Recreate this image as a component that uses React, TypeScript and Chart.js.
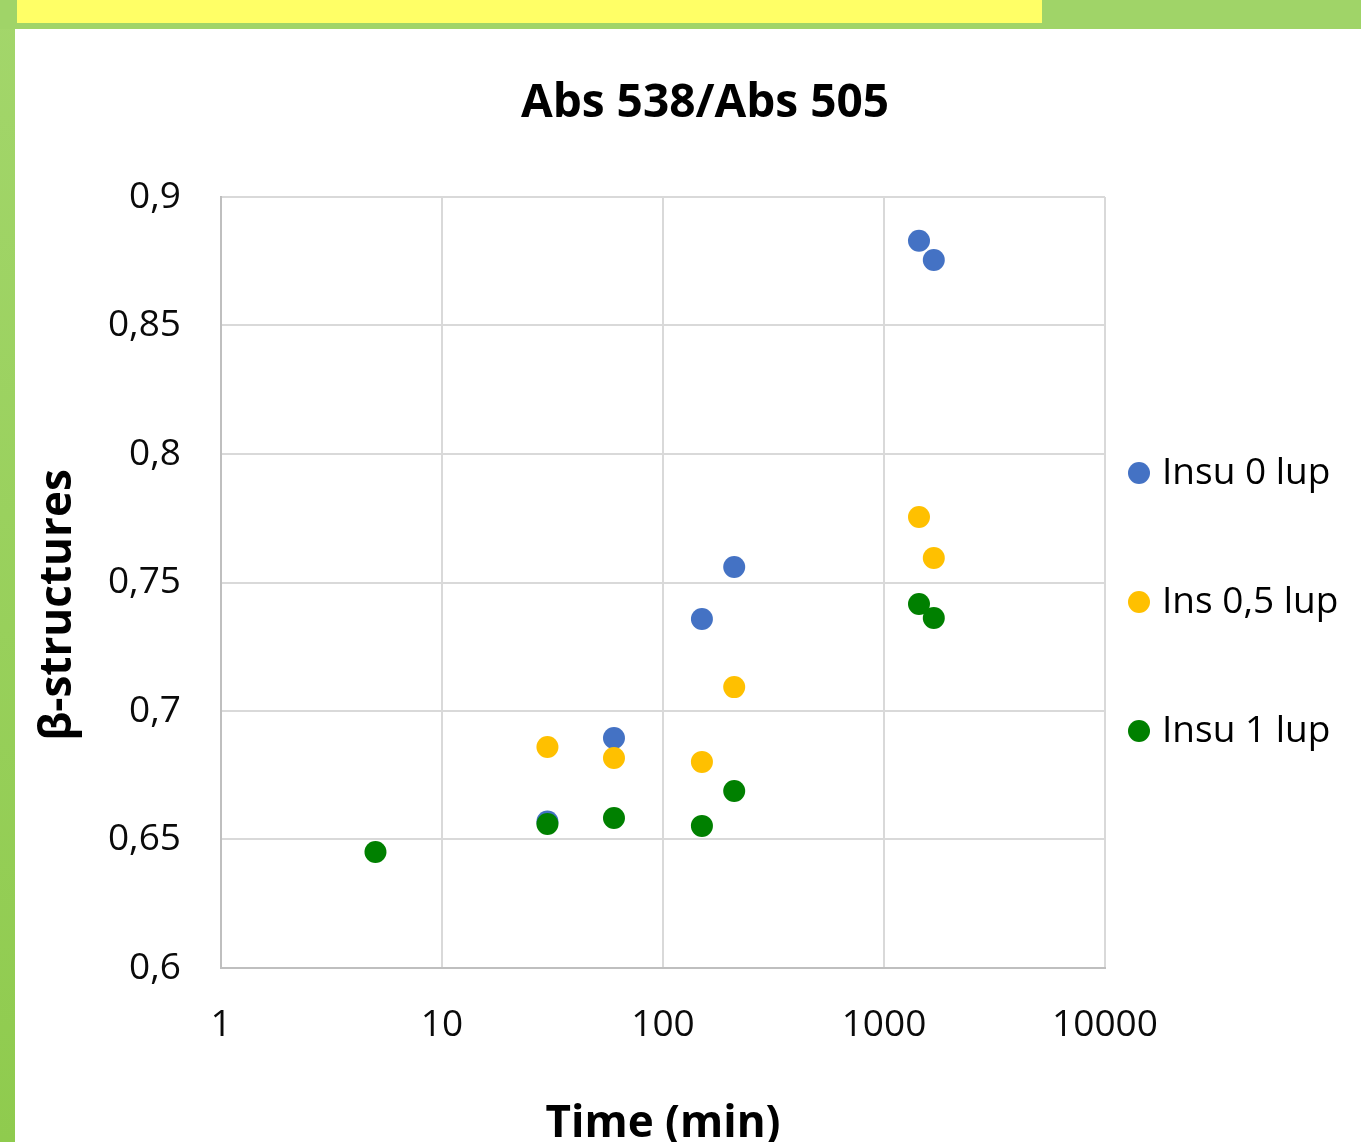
import React, { useEffect, useRef } from "react";
import { Chart, registerables } from "chart.js";

Chart.register(...registerables);

const chartTitle = "Abs 538/Abs 505";
const xAxisTitle = "Time (min)";
const yAxisTitle = "β-structures";

const xTickValues = [1, 10, 100, 1000, 10000];
const yMin = 0.6;
const yMax = 0.9;
const yStep = 0.05;

const seriesNames = ["Insu 0 lup", "Ins 0,5 lup", "Insu 1 lup"];
const seriesColors = ["#4472C4", "#FFC000", "#008000"];

const insu0Time = [30, 60, 150, 210, 1440, 1680];
const insu0Values = [0.657, 0.6895, 0.7358, 0.756, 0.883, 0.8755];

const ins05Time = [30, 60, 150, 210, 1440, 1680];
const ins05Values = [0.686, 0.6817, 0.6802, 0.7093, 0.7755, 0.7595];

const insu1Time = [5, 30, 60, 150, 210, 1440, 1680];
const insu1Values = [0.6451, 0.656, 0.6584, 0.6553, 0.6689, 0.7416, 0.7362];

const FONT = "'Open Sans', 'Noto Sans', sans-serif";

const W = 1361;
const H = 1142;

function toPoints(xs: number[], ys: number[]) {
  return xs.map((x, i) => ({ x, y: ys[i] }));
}

const framePlugin = {
  id: "frame",
  beforeDraw(chart: any) {
    const ctx = chart.ctx;
    ctx.save();
    ctx.fillStyle = "#ffffff";
    ctx.fillRect(0, 0, W, H);
    const grad = ctx.createLinearGradient(0, 0, 0, H);
    grad.addColorStop(0, "#A3D66B");
    grad.addColorStop(1, "#8FCB4E");
    ctx.fillStyle = grad;
    ctx.fillRect(0, 0, 15, H);
    ctx.fillStyle = "#A0D468";
    ctx.fillRect(0, 0, W, 29);
    ctx.fillStyle = "#FFFF66";
    ctx.fillRect(17, 0, 1025, 23);
    ctx.restore();
  },
};

const textPlugin = {
  id: "texts",
  afterDraw(chart: any) {
    const ctx = chart.ctx;
    ctx.save();
    ctx.fillStyle = "#000000";
    ctx.textAlign = "center";
    ctx.textBaseline = "middle";
    ctx.font = `bold 46px ${FONT}`;
    ctx.fillText(chartTitle, 705, 104);
    ctx.font = `bold 44px ${FONT}`;
    ctx.fillText(xAxisTitle, 663, 1124);
    ctx.save();
    ctx.translate(58, 605);
    ctx.rotate(-Math.PI / 2);
    ctx.fillText(yAxisTitle, 0, 0);
    ctx.restore();

    ctx.font = `37px ${FONT}`;
    ctx.textAlign = "left";
    const rows = [473, 602, 731];
    chart.data.datasets.forEach((ds: any, i: number) => {
      const y = rows[i];
      ctx.fillStyle = ds.backgroundColor;
      ctx.beginPath();
      ctx.arc(1139, y, 11, 0, Math.PI * 2);
      ctx.fill();
      ctx.fillStyle = "#000000";
      ctx.fillText(ds.label, 1162, y);
    });
    ctx.restore();
  },
};

export default function App() {
  const ref = useRef<HTMLCanvasElement | null>(null);

  useEffect(() => {
    if (!ref.current) return;
    const datasets = [
      { label: seriesNames[0], data: toPoints(insu0Time, insu0Values), order: 2 },
      { label: seriesNames[1], data: toPoints(ins05Time, ins05Values), order: 1 },
      { label: seriesNames[2], data: toPoints(insu1Time, insu1Values), order: 0 },
    ].map((d, i) => ({
      ...d,
      backgroundColor: seriesColors[i],
      borderColor: seriesColors[i],
      borderWidth: 0,
      pointRadius: 11,
      pointHoverRadius: 11,
      showLine: false,
    }));

    const chart = new Chart(ref.current, {
      type: "scatter",
      data: { datasets },
      plugins: [framePlugin, textPlugin],
      options: {
        animation: false,
        responsive: false,
        devicePixelRatio: 1,
        layout: { padding: { left: 0, top: 197, right: 256, bottom: 0 } },
        plugins: {
          legend: { display: false },
          title: { display: false },
          tooltip: { enabled: false },
        },
        scales: {
          x: {
            type: "logarithmic",
            min: xTickValues[0],
            max: xTickValues[xTickValues.length - 1],
            afterBuildTicks: (scale: any) => {
              scale.ticks = xTickValues.map((v) => ({ value: v }));
            },
            afterFit: (scale: any) => {
              scale.height = H - 968;
            },
            ticks: {
              autoSkip: false,
              maxRotation: 0,
              padding: 35,
              color: "#0A0A0A",
              font: { family: FONT, size: 37 },
              callback: (v: any) => String(v),
            },
            grid: { color: "#D9D9D9", lineWidth: 2, drawTicks: false },
            border: { color: "#BFBFBF", width: 2 },
          },
          y: {
            type: "linear",
            min: yMin,
            max: yMax,
            ticks: {
              stepSize: yStep,
              padding: 40,
              color: "#0A0A0A",
              font: { family: FONT, size: 37 },
              callback: (v: any) => String(Math.round(Number(v) * 100) / 100).replace(".", ","),
            },
            afterFit: (scale: any) => {
              scale.width = 221;
            },
            grid: { color: "#D9D9D9", lineWidth: 2, drawTicks: false },
            border: { color: "#BFBFBF", width: 2 },
          },
        },
      } as any,
    });
    return () => chart.destroy();
  }, []);

  return (
    <canvas
      ref={ref}
      width={W}
      height={H}
      style={{ position: "absolute", left: 0, top: 0, width: W, height: H, display: "block" }}
    />
  );
}
